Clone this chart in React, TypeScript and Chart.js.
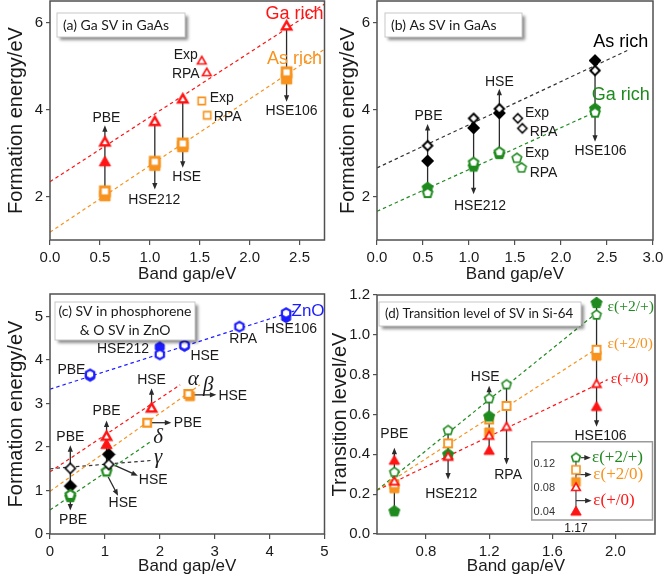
import React, { useEffect, useRef } from 'react';
import { Chart, registerables } from 'chart.js';

Chart.register(...registerables);

type Pt = [number, number];
type Shape = 'triangle' | 'square' | 'diamond' | 'pentagon' | 'hexagon';

const RED = '#ff1414';
const ORANGE = '#f7931e';
const GREEN = '#1f8b1f';
const BLUE = '#1c1cff';
const BLACK = '#000000';
const TXT = '#1a1a1a';
const FRAME = '#505050';
const ARROW = '#2a2a2a';
const SANS = '"Liberation Sans", Arial, Helvetica, sans-serif';
const SERIF = '"Liberation Serif", "Times New Roman", "DejaVu Serif", serif';
const BOXFAMILY = 'Lato, "Open Sans", sans-serif';

// ---------------- (a) Ga SV in GaAs ----------------
const A_X_TICKS = [0, 0.5, 1, 1.5, 2, 2.5];
const A_Y_TICKS = [2, 4, 6];
const A_GA_OPEN: Pt[] = [[0.55, 3.24], [1.05, 3.71], [1.33, 4.23], [2.37, 5.91]];
const A_GA_FILLED: Pt[] = [[0.55, 2.78]];
const A_GA_EXP_RPA: Pt[] = [[1.52, 5.11], [1.57, 4.84]];
const A_AS_OPEN: Pt[] = [[0.55, 2.12], [1.05, 2.8], [1.33, 3.22], [2.37, 4.86]];
const A_AS_FILLED: Pt[] = [[0.55, 2.02], [1.05, 2.72], [1.33, 3.15], [2.37, 4.71]];
const A_AS_EXP_RPA: Pt[] = [[1.52, 4.2], [1.575, 3.87]];
const A_GA_FIT: Pt[] = [[0, 2.34], [2.75, 6.43]];
const A_AS_FIT: Pt[] = [[0, 1.18], [2.75, 5.39]];

// ---------------- (b) As SV in GaAs ----------------
const B_X_TICKS = [0, 0.5, 1, 1.5, 2, 2.5, 3];
const B_Y_TICKS = [2, 4, 6];
const B_AS_OPEN: Pt[] = [[0.55, 3.17], [1.05, 3.8], [1.33, 4.02], [2.37, 4.9]];
const B_AS_FILLED: Pt[] = [[0.55, 2.82], [1.05, 3.58], [1.33, 3.92], [2.37, 5.13]];
const B_AS_EXP_RPA: Pt[] = [[1.53, 3.8], [1.58, 3.57]];
const B_GA_OPEN: Pt[] = [[0.55, 2.08], [1.05, 2.78], [1.33, 3.02], [2.37, 3.93]];
const B_GA_FILLED: Pt[] = [[0.55, 2.2], [1.05, 2.69], [1.33, 2.98], [2.37, 4.02]];
const B_GA_EXP_RPA: Pt[] = [[1.52, 2.88], [1.57, 2.66]];
const B_AS_FIT: Pt[] = [[0, 2.66], [2.72, 5.36]];
const B_GA_FIT: Pt[] = [[0, 1.66], [2.42, 3.99]];

// ---------------- (c) SV in phosphorene & O SV in ZnO ----------------
const C_X_TICKS = [0, 1, 2, 3, 4, 5];
const C_Y_TICKS = [0, 1, 2, 3, 4, 5];
const C_ZNO_OPEN: Pt[] = [[0.73, 3.67], [2.0, 4.13], [2.45, 4.34], [3.45, 4.77], [4.3, 5.08]];
const C_ZNO_FILLED: Pt[] = [[0.73, 3.63], [2.0, 4.3], [2.45, 4.32], [4.3, 4.98]];
const C_ALPHA_OPEN: Pt[] = [[1.03, 2.23], [1.85, 2.88]];
const C_ALPHA_FILLED: Pt[] = [[1.03, 2.04]];
const C_BETA_OPEN: Pt[] = [[1.77, 2.56], [2.52, 3.22]];
const C_BETA_FILLED: Pt[] = [[2.55, 3.17]];
const C_GAMMA_OPEN: Pt[] = [[0.37, 1.51], [1.07, 1.6]];
const C_GAMMA_FILLED: Pt[] = [[0.37, 1.1], [1.07, 1.83]];
const C_DELTA_OPEN: Pt[] = [[0.37, 0.9], [1.03, 1.44]];
const C_DELTA_FILLED: Pt[] = [[0.37, 0.85]];
const C_ZNO_FIT: Pt[] = [[0, 3.33], [4.45, 5.13]];
const C_ALPHA_FIT: Pt[] = [[0, 1.43], [2.37, 3.43]];
const C_BETA_FIT: Pt[] = [[0, 0.98], [2.73, 3.43]];
const C_DELTA_FIT: Pt[] = [[0, 0.55], [1.83, 2.12]];
const C_GAMMA_FIT: Pt[] = [[0, 1.5], [1.83, 1.69]];

// ---------------- (d) Transition level of SV in Si-64 ----------------
const D_X_TICKS = [0.8, 1.2, 1.6, 2.0];
const D_Y_TICKS = [0, 0.2, 0.4, 0.6, 0.8, 1.0, 1.2];
const D_P2P_OPEN: Pt[] = [[0.6, 0.31], [0.94, 0.52], [1.2, 0.68], [1.31, 0.75], [1.88, 1.1]];
const D_P2P_FILLED: Pt[] = [[0.6, 0.114], [0.94, 0.4], [1.2, 0.59], [1.88, 1.16]];
const D_P20_OPEN: Pt[] = [[0.6, 0.25], [0.94, 0.455], [1.2, 0.575], [1.31, 0.643], [1.88, 0.925]];
const D_P20_FILLED: Pt[] = [[0.6, 0.23], [1.2, 0.51], [1.88, 0.895]];
const D_P0_OPEN: Pt[] = [[0.6, 0.26], [0.94, 0.385], [1.2, 0.49], [1.31, 0.535], [1.88, 0.75]];
const D_P0_FILLED: Pt[] = [[0.6, 0.365], [0.94, 0.39], [1.2, 0.415], [1.88, 0.635]];
const D_P2P_FIT: Pt[] = [[0.49, 0.22], [1.88, 1.11]];
const D_P20_FIT: Pt[] = [[0.49, 0.22], [1.88, 0.93]];
const D_P0_FIT: Pt[] = [[0.49, 0.22], [1.95, 0.775]];

// inset of (d)
const IN_X_TICKS = [1.17];
const IN_Y_TICKS = [0.04, 0.08, 0.12];
const IN_P2P_OPEN: Pt[] = [[1.17, 0.13]];
const IN_P20_OPEN: Pt[] = [[1.17, 0.11]];
const IN_P20_FILLED: Pt[] = [[1.17, 0.09]];
const IN_P0_OPEN: Pt[] = [[1.17, 0.08]];
const IN_P0_FILLED: Pt[] = [[1.17, 0.04]];

// ---------------- helpers ----------------
type Arrow = { from: Pt; to: Pt; head?: boolean; color?: string; lw?: number };
type Label = { text: string; at: Pt; color?: string; size?: number; family?: string; style?: string; align?: CanvasTextAlign };
type Box = { x: number; y: number; w: number; h: number; lines: string[]; align: CanvasTextAlign; size: number };

function shapePath(ctx: CanvasRenderingContext2D, shape: Shape, x: number, y: number, r: number) {
  ctx.beginPath();
  const poly = (n: number) => {
    for (let i = 0; i < n; i++) {
      const a = -Math.PI / 2 + (i * 2 * Math.PI) / n;
      const px = x + r * Math.cos(a);
      const py = y + r * Math.sin(a);
      if (i === 0) ctx.moveTo(px, py);
      else ctx.lineTo(px, py);
    }
    ctx.closePath();
  };
  if (shape === 'square') {
    ctx.rect(x - r, y - r, 2 * r, 2 * r);
  } else if (shape === 'triangle') {
    poly(3);
  } else if (shape === 'diamond') {
    poly(4);
  } else if (shape === 'pentagon') {
    poly(5);
  } else {
    poly(6);
  }
}

function markerCanvas(shape: Shape, color: string, filled: boolean, r: number, lw: number) {
  const pad = Math.ceil(lw) + 2;
  const size = Math.ceil(2 * r) + 2 * pad;
  const c = document.createElement('canvas');
  c.width = size;
  c.height = size;
  const ctx = c.getContext('2d') as CanvasRenderingContext2D;
  shapePath(ctx, shape, size / 2, size / 2, r);
  ctx.fillStyle = filled ? color : '#ffffff';
  ctx.fill();
  ctx.lineJoin = 'miter';
  ctx.lineWidth = filled ? 1 : lw;
  ctx.strokeStyle = color;
  ctx.stroke();
  return c;
}

function pts(d: Pt[]) {
  return d.map(([x, y]) => ({ x, y }));
}

function mk(data: Pt[], shape: Shape, color: string, filled: boolean, r: number, lw: number, order: number) {
  return {
    type: 'scatter',
    data: pts(data),
    showLine: false,
    pointStyle: markerCanvas(shape, color, filled, r, lw),
    pointRadius: r,
    pointHoverRadius: r,
    order,
    clip: false,
  };
}

function fit(data: Pt[], color: string) {
  return {
    type: 'scatter',
    data: pts(data),
    showLine: true,
    borderColor: color,
    borderWidth: 1.2,
    borderDash: [3.5, 3],
    pointRadius: 0,
    pointHoverRadius: 0,
    fill: false,
    order: 20,
  };
}

function drawArrow(ctx: CanvasRenderingContext2D, x1: number, y1: number, x2: number, y2: number, head: boolean, color: string, lw: number) {
  const ang = Math.atan2(y2 - y1, x2 - x1);
  const hl = 6.5;
  const hw = 2.6;
  const cos = Math.cos(ang);
  const sin = Math.sin(ang);
  ctx.strokeStyle = color;
  ctx.fillStyle = color;
  ctx.lineWidth = lw;
  ctx.beginPath();
  ctx.moveTo(x1, y1);
  ctx.lineTo(head ? x2 - cos * hl * 0.7 : x2, head ? y2 - sin * hl * 0.7 : y2);
  ctx.stroke();
  if (head) {
    const bx = x2 - cos * hl;
    const by = y2 - sin * hl;
    ctx.beginPath();
    ctx.moveTo(x2, y2);
    ctx.lineTo(bx - sin * hw, by + cos * hw);
    ctx.lineTo(bx + sin * hw, by - cos * hw);
    ctx.closePath();
    ctx.fill();
  }
}

function annoPlugin(arrows: Arrow[], labels: Label[], box: Box | null, frame: boolean, insetBox: boolean) {
  return {
    id: 'anno',
    beforeDraw(chart: any) {
      if (!insetBox) return;
      const { ctx } = chart;
      ctx.save();
      ctx.fillStyle = '#ffffff';
      ctx.fillRect(0.75, 0.75, 120.75, 78.25);
      ctx.strokeStyle = '#9a9a9a';
      ctx.lineWidth = 1.5;
      ctx.strokeRect(0.75, 0.75, 120.75, 78.25);
      ctx.restore();
    },
    beforeDatasetsDraw(chart: any) {
      const { ctx, scales } = chart;
      const x = scales.x;
      const y = scales.y;
      ctx.save();
      for (const a of arrows) {
        drawArrow(
          ctx,
          x.getPixelForValue(a.from[0]),
          y.getPixelForValue(a.from[1]),
          x.getPixelForValue(a.to[0]),
          y.getPixelForValue(a.to[1]),
          a.head !== false,
          a.color || ARROW,
          a.lw || 1.3
        );
      }
      ctx.restore();
    },
    afterDatasetsDraw(chart: any) {
      const { ctx, chartArea: ca, scales } = chart;
      const x = scales.x;
      const y = scales.y;
      ctx.save();
      if (frame) {
        ctx.strokeStyle = FRAME;
        ctx.lineWidth = 1.5;
        ctx.strokeRect(ca.left, ca.top, ca.right - ca.left, ca.bottom - ca.top);
      }
      for (const l of labels) {
        ctx.font = `${l.style || ''} ${l.size || 14}px ${l.family || SANS}`;
        ctx.fillStyle = l.color || TXT;
        ctx.textAlign = l.align || 'center';
        ctx.textBaseline = 'middle';
        ctx.fillText(l.text, x.getPixelForValue(l.at[0]), y.getPixelForValue(l.at[1]));
      }
      if (box) {
        const bx = ca.left + box.x;
        const by = ca.top + box.y;
        ctx.save();
        ctx.shadowColor = 'rgba(0,0,0,0.45)';
        ctx.shadowOffsetX = 3;
        ctx.shadowOffsetY = 3;
        ctx.shadowBlur = 3;
        ctx.fillStyle = '#ffffff';
        ctx.fillRect(bx, by, box.w, box.h);
        ctx.restore();
        ctx.strokeStyle = '#c8c8c8';
        ctx.lineWidth = 1;
        ctx.strokeRect(bx, by, box.w, box.h);
        ctx.font = `${box.size}px ${BOXFAMILY}`;
        ctx.fillStyle = TXT;
        ctx.textBaseline = 'middle';
        ctx.textAlign = box.align;
        const n = box.lines.length;
        const lh = box.h / n;
        box.lines.forEach((t, i) => {
          const tx = box.align === 'center' ? bx + box.w / 2 : bx + 6;
          ctx.fillText(t, tx, by + lh * (i + 0.5));
        });
      }
      ctx.restore();
    },
  };
}

function axis(
  isX: boolean,
  min: number,
  max: number,
  ticks: number[],
  digits: number,
  title: string,
  fitSize: number,
  opts: {
    tickSize?: number;
    tickPad?: number;
    tickLen?: number;
    titleSize?: number;
    titlePad?: number;
    titleLH?: number;
    gridOff?: boolean;
    tickColor?: string;
  } = {}
) {
  return {
    type: 'linear',
    position: isX ? 'bottom' : 'left',
    min,
    max,
    afterBuildTicks: (s: any) => {
      s.ticks = ticks.map((v) => ({ value: v }));
    },
    afterFit: (s: any) => {
      if (isX) {
        s.height = fitSize;
        s.paddingLeft = 0;
        s.paddingRight = 0;
      } else {
        s.width = fitSize;
        s.paddingTop = 0;
        s.paddingBottom = 0;
      }
    },
    ticks: {
      callback: (v: any) => Number(v).toFixed(digits),
      font: { family: SANS, size: opts.tickSize || 15 },
      color: opts.tickColor || TXT,
      padding: opts.tickPad !== undefined ? opts.tickPad : 3,
      autoSkip: false,
      maxRotation: 0,
    },
    grid: {
      display: !opts.gridOff,
      drawOnChartArea: false,
      drawTicks: true,
      tickLength: opts.tickLen !== undefined ? opts.tickLen : 5,
      color: FRAME,
      lineWidth: 1.2,
    },
    border: { display: false },
    title: {
      display: !!title,
      text: title,
      font: { family: SANS, size: opts.titleSize || 20, lineHeight: opts.titleLH || 1.2 },
      color: TXT,
      padding: isX ? { top: 0, bottom: opts.titlePad || 0 } : { top: opts.titlePad || 0, bottom: 0 },
    },
  };
}

function config(datasets: any[], scales: any, padding: any, plugin: any) {
  return {
    type: 'scatter',
    data: { datasets },
    options: {
      responsive: false,
      animation: false,
      events: [],
      layout: { padding },
      plugins: { legend: { display: false }, tooltip: { enabled: false }, title: { display: false } },
      scales,
    },
    plugins: [plugin],
  };
}

// ---------------- panel builders ----------------
function makeA() {
  const datasets = [
    mk(A_GA_OPEN, 'triangle', RED, false, 5.3, 2.5, 2),
    mk(A_AS_OPEN, 'square', ORANGE, false, 4.5, 2.8, 2),
    mk(A_GA_EXP_RPA, 'triangle', RED, false, 5.0, 1.6, 2),
    mk(A_AS_EXP_RPA, 'square', ORANGE, false, 3.6, 1.6, 2),
    mk(A_GA_FILLED, 'triangle', RED, true, 6.5, 1, 3),
    mk(A_AS_FILLED, 'square', ORANGE, true, 5.2, 1, 3),
    fit(A_GA_FIT, RED),
    fit(A_AS_FIT, ORANGE),
  ];
  const arrows: Arrow[] = [
    { from: [0.55, 2.05], to: [0.55, 3.64] },
    { from: [1.05, 3.71], to: [1.05, 2.16] },
    { from: [1.33, 4.23], to: [1.33, 2.66] },
    { from: [2.37, 5.91], to: [2.37, 4.18] },
  ];
  const labels: Label[] = [
    { text: 'PBE', at: [0.565, 3.8] },
    { text: 'HSE212', at: [1.045, 1.91] },
    { text: 'HSE', at: [1.37, 2.45] },
    { text: 'HSE106', at: [2.42, 3.97] },
    { text: 'Exp', at: [1.36, 5.25] },
    { text: 'RPA', at: [1.36, 4.81] },
    { text: 'Exp', at: [1.72, 4.26] },
    { text: 'RPA', at: [1.78, 3.82] },
    { text: 'Ga rich', at: [2.45, 6.2], color: RED, size: 18 },
    { text: 'As rich', at: [2.45, 5.17], color: ORANGE, size: 18 },
  ];
  const box: Box = { x: 7, y: 12, w: 128, h: 24, lines: ['(a) Ga SV in GaAs'], align: 'left', size: 14 };
  return config(
    datasets,
    {
      x: axis(true, 0, 2.75, A_X_TICKS, 1, 'Band gap/eV', 52, { tickPad: 4, titleSize: 17, titlePad: 7 }),
      y: axis(false, 1.0, 6.5, A_Y_TICKS, 0, 'Formation energy/eV', 50, { tickLen: 4, titlePad: 4 }),
    },
    { left: 0, top: 13, right: 6, bottom: 0 },
    annoPlugin(arrows, labels, box, true, false)
  );
}

function makeB() {
  const datasets = [
    mk(B_AS_OPEN, 'diamond', BLACK, false, 4.7, 2.0, 2),
    mk(B_GA_OPEN, 'pentagon', GREEN, false, 5.0, 2.0, 2),
    mk(B_AS_EXP_RPA, 'diamond', BLACK, false, 4.6, 1.5, 2),
    mk(B_GA_EXP_RPA, 'pentagon', GREEN, false, 5.0, 1.6, 2),
    mk(B_AS_FILLED, 'diamond', BLACK, true, 6.0, 1, 3),
    mk(B_GA_FILLED, 'pentagon', GREEN, true, 5.8, 1, 3),
    fit(B_AS_FIT, '#333333'),
    fit(B_GA_FIT, GREEN),
  ];
  const arrows: Arrow[] = [
    { from: [0.55, 2.2], to: [0.55, 3.67] },
    { from: [1.05, 3.8], to: [1.05, 2.05] },
    { from: [1.33, 3.0], to: [1.33, 4.48] },
    { from: [2.37, 5.13], to: [2.37, 3.26] },
  ];
  const labels: Label[] = [
    { text: 'PBE', at: [0.56, 3.84] },
    { text: 'HSE212', at: [1.12, 1.78] },
    { text: 'HSE', at: [1.33, 4.64] },
    { text: 'HSE106', at: [2.43, 3.04] },
    { text: 'Exp', at: [1.74, 3.91] },
    { text: 'RPA', at: [1.81, 3.49] },
    { text: 'Exp', at: [1.74, 2.99] },
    { text: 'RPA', at: [1.81, 2.53] },
    { text: 'As rich', at: [2.65, 5.55], color: BLACK, size: 18 },
    { text: 'Ga rich', at: [2.65, 4.33], color: GREEN, size: 18 },
  ];
  const box: Box = { x: 8, y: 12, w: 137, h: 24, lines: ['(b) As SV in GaAs'], align: 'left', size: 14 };
  return config(
    datasets,
    {
      x: axis(true, 0, 3.0, B_X_TICKS, 1, 'Band gap/eV', 52, { tickPad: 4, titleSize: 17, titlePad: 7 }),
      y: axis(false, 1.0, 6.5, B_Y_TICKS, 0, 'Formation energy/eV', 45, { tickLen: 4, titlePad: 4 }),
    },
    { left: 0, top: 13, right: 31, bottom: 0 },
    annoPlugin(arrows, labels, box, true, false)
  );
}

function makeC() {
  const datasets = [
    mk(C_ALPHA_OPEN, 'triangle', RED, false, 5.3, 2.5, 2),
    mk(C_BETA_OPEN, 'square', ORANGE, false, 3.8, 2.3, 2),
    mk(C_GAMMA_OPEN, 'diamond', BLACK, false, 5.0, 1.6, 2),
    mk(C_DELTA_OPEN, 'pentagon', GREEN, false, 5.0, 2.2, 2),
    mk(C_ZNO_OPEN, 'hexagon', BLUE, false, 4.8, 2.2, 2),
    mk(C_ALPHA_FILLED, 'triangle', RED, true, 6.5, 1, 3),
    mk(C_BETA_FILLED, 'square', ORANGE, true, 4.5, 1, 3),
    mk(C_GAMMA_FILLED, 'diamond', BLACK, true, 6.3, 1, 3),
    mk(C_DELTA_FILLED, 'pentagon', GREEN, true, 5.8, 1, 3),
    mk(C_ZNO_FILLED, 'hexagon', BLUE, true, 5.2, 1, 3),
    fit(C_ZNO_FIT, BLUE),
    fit(C_ALPHA_FIT, RED),
    fit(C_BETA_FIT, ORANGE),
    fit(C_DELTA_FIT, GREEN),
    fit(C_GAMMA_FIT, '#333333'),
  ];
  const arrows: Arrow[] = [
    { from: [2.6, 3.2], to: [3.03, 3.2] },
    { from: [1.85, 2.56], to: [2.21, 2.56] },
    { from: [1.03, 1.44], to: [1.03, 2.61] },
    { from: [1.85, 2.88], to: [1.85, 3.35] },
    { from: [0.37, 0.85], to: [0.37, 2.04] },
    { from: [0.37, 0.85], to: [0.37, 0.54] },
    { from: [1.18, 1.58], to: [1.6, 1.34] },
    { from: [1.06, 1.31], to: [1.24, 0.88] },
  ];
  const greek = (text: string, at: Pt): Label => ({ text, at, size: 21, family: SERIF, style: 'italic' });
  const labels: Label[] = [
    { text: 'PBE', at: [0.39, 3.77] },
    { text: 'HSE212', at: [1.33, 4.25] },
    { text: 'HSE', at: [2.82, 4.09] },
    { text: 'RPA', at: [3.52, 4.49] },
    { text: 'HSE106', at: [4.39, 4.71] },
    { text: 'ZnO', at: [4.7, 5.13], color: BLUE, size: 17 },
    { text: 'HSE', at: [3.33, 3.17] },
    { text: 'PBE', at: [2.51, 2.54] },
    { text: 'PBE', at: [1.03, 2.82] },
    { text: 'HSE', at: [1.85, 3.55] },
    { text: 'PBE', at: [0.37, 2.23] },
    { text: 'PBE', at: [0.42, 0.32] },
    { text: 'HSE', at: [1.88, 1.25] },
    { text: 'HSE', at: [1.33, 0.7] },
    greek('α', [2.61, 3.55]),
    greek('β', [2.88, 3.42]),
    greek('δ', [1.97, 2.23]),
    greek('γ', [1.97, 1.77]),
  ];
  const box: Box = { x: 5, y: 8, w: 140, h: 38, lines: ['(c) SV in phosphorene', '& O SV in ZnO'], align: 'center', size: 14 };
  return config(
    datasets,
    {
      x: axis(true, 0, 5, C_X_TICKS, 0, 'Band gap/eV', 50, { tickPad: 4, titleSize: 17, titlePad: 7 }),
      y: axis(false, 0, 5.52, C_Y_TICKS, 0, 'Formation energy/eV', 50, { tickLen: 4, titlePad: 4 }),
    },
    { left: 0, top: 14, right: 7, bottom: 0 },
    annoPlugin(arrows, labels, box, true, false)
  );
}

function makeD() {
  const datasets = [
    mk(D_P0_OPEN, 'triangle', RED, false, 5.0, 1.8, 1),
    mk(D_P2P_OPEN, 'pentagon', GREEN, false, 4.8, 1.6, 2),
    mk(D_P2P_FILLED, 'pentagon', GREEN, true, 5.8, 1, 3),
    mk(D_P20_OPEN, 'square', ORANGE, false, 4.0, 1.8, 4),
    mk(D_P20_FILLED, 'square', ORANGE, true, 4.5, 1, 5),
    mk(D_P0_FILLED, 'triangle', RED, true, 6.0, 1, 6),
    fit(D_P2P_FIT, GREEN),
    fit(D_P20_FIT, ORANGE),
    fit(D_P0_FIT, RED),
  ];
  const arrows: Arrow[] = [
    { from: [0.6, 0.114], to: [0.6, 0.433] },
    { from: [0.94, 0.52], to: [0.94, 0.274] },
    { from: [1.2, 0.415], to: [1.2, 0.744] },
    { from: [1.31, 0.75], to: [1.31, 0.349] },
    { from: [1.88, 1.16], to: [1.88, 0.539] },
  ];
  const eps = (text: string, at: Pt, color: string): Label => ({ text, at, color, size: 15.5, family: SERIF, align: 'left' });
  const labels: Label[] = [
    { text: 'PBE', at: [0.6, 0.5] },
    { text: 'HSE212', at: [0.96, 0.198] },
    { text: 'HSE', at: [1.175, 0.787] },
    { text: 'RPA', at: [1.32, 0.294] },
    { text: 'HSE106', at: [1.905, 0.49] },
    eps('ε(+2/+)', [1.95, 1.14], GREEN),
    eps('ε(+2/0)', [1.95, 0.954], ORANGE),
    eps('ε(+/0)', [1.97, 0.78], RED),
  ];
  const box: Box = { x: 2, y: 7, w: 202, h: 24, lines: ['(d) Transition level of SV in Si-64'], align: 'left', size: 13.3 };
  return config(
    datasets,
    {
      x: axis(true, 0.49, 2.25, D_X_TICKS, 1, 'Band gap/eV', 50, { tickPad: 4, titleSize: 17, titlePad: 7 }),
      y: axis(false, 0, 1.2, D_Y_TICKS, 1, 'Transition level/eV', 45, { tickLen: 4, titlePad: 0, titleLH: 0.8 }),
    },
    { left: 0, top: 15, right: 9, bottom: 0 },
    annoPlugin(arrows, labels, box, true, false)
  );
}

function makeInset() {
  const datasets = [
    mk(IN_P2P_OPEN, 'pentagon', GREEN, false, 4.6, 1.6, 1),
    mk(IN_P20_OPEN, 'square', ORANGE, false, 4.0, 1.6, 2),
    mk(IN_P0_OPEN, 'triangle', RED, false, 5.0, 1.6, 3),
    mk(IN_P20_FILLED, 'square', ORANGE, true, 4.3, 1, 4),
    mk(IN_P0_FILLED, 'triangle', RED, true, 6.0, 1, 5),
  ];
  const arrows: Arrow[] = [
    { from: [1.17, 0.04], to: [1.17, 0.13], head: false, color: '#555555' },
    { from: [1.182, 0.13], to: [1.205, 0.13], lw: 1.1 },
    { from: [1.17, 0.102], to: [1.207, 0.102], lw: 1.1 },
    { from: [1.17, 0.059], to: [1.207, 0.059], lw: 1.1 },
  ];
  const eps = (text: string, at: Pt, color: string): Label => ({ text, at, color, size: 17, family: SERIF, align: 'left' });
  const labels: Label[] = [
    eps('ε(+2/+)', [1.208, 0.13], GREEN),
    eps('ε(+2/0)', [1.211, 0.102], ORANGE),
    eps('ε(+/0)', [1.211, 0.059], RED),
  ];
  return config(
    datasets,
    {
      x: axis(true, 1.13, 1.34, IN_X_TICKS, 2, '', 16, { tickSize: 12, tickPad: 1, tickLen: 0, gridOff: true }),
      y: axis(false, 0.027, 0.146, IN_Y_TICKS, 2, '', 28, { tickSize: 11, tickPad: 4, tickLen: 0, gridOff: true, tickColor: '#333333' }),
    },
    { left: 0, top: 5, right: 3, bottom: 0 },
    annoPlugin(arrows, labels, null, false, true)
  );
}

function ChartCanvas(props: { left: number; top: number; w: number; h: number; make: () => any }) {
  const ref = useRef<HTMLCanvasElement | null>(null);
  useEffect(() => {
    if (!ref.current) return;
    const chart = new Chart(ref.current, props.make());
    return () => chart.destroy();
  }, []);
  return (
    <canvas
      ref={ref}
      width={props.w}
      height={props.h}
      style={{ position: 'absolute', left: props.left, top: props.top, width: props.w, height: props.h }}
    />
  );
}

export default function App() {
  return (
    <div style={{ position: 'absolute', left: 0, top: 0, width: 664, height: 584, background: '#ffffff', overflow: 'hidden' }}>
      <ChartCanvas left={0} top={-12} w={332} h={304} make={makeA} />
      <ChartCanvas left={332} top={-12} w={352} h={304} make={makeB} />
      <ChartCanvas left={0} top={280} w={332} h={304} make={makeC} />
      <ChartCanvas left={332} top={280} w={332} h={304} make={makeD} />
      <ChartCanvas left={531} top={441} w={124} h={95} make={makeInset} />
    </div>
  );
}
